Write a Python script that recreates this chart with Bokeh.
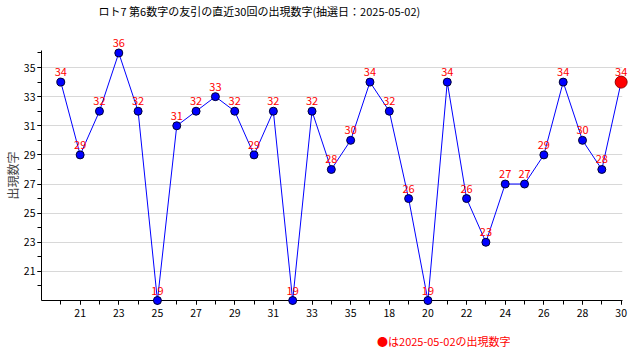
from bokeh.plotting import figure
from bokeh.models import ColumnDataSource, FixedTicker, Range1d, Title
from bokeh.core.properties import value
from bokeh.embed import file_html
from bokeh.resources import INLINE

# ---- data ----
draw_index = list(range(1, 31))
values = [34, 29, 32, 36, 32, 19, 31, 32, 33, 32, 29, 32, 19, 32, 28,
          30, 34, 32, 26, 19, 34, 26, 23, 27, 27, 29, 34, 30, 28, 34]
x_tick_pos = [2, 4, 6, 8, 10, 12, 14, 16, 18, 20, 22, 24, 26, 28, 30]
x_tick_labels = ["21", "23", "25", "27", "29", "31", "33", "35",
                 "18", "20", "22", "24", "26", "28", "30"]
y_ticks = [21, 23, 25, 27, 29, 31, 33, 35]
title_text = "ロト7 第6数字の友引の直近30回の出現数字(抽選日：2025-05-02)"
ylabel_text = "出現数字"
note_text = "●は2025-05-02の出現数字"

FONT = "Noto Sans CJK JP"

src = ColumnDataSource(dict(x=draw_index, y=values, lab=[str(v) for v in values]))
last = ColumnDataSource(dict(x=draw_index[-1:], y=values[-1:]))

p = figure(frame_width=581, frame_height=250, output_backend="svg",
           toolbar_location=None,
           x_range=Range1d(0.0, 30.07), y_range=Range1d(19, 36.17),
           min_border_left=32, min_border_right=11, min_border_top=20,
           min_border_bottom=48)
p.outline_line_color = None
p.background_fill_color = "white"
p.border_fill_color = "white"

# spacer between title and frame (nearest to frame), then the title
spacer = Title(text=" ", text_font_size="1px", standoff=29)
p.add_layout(spacer, "above")
t = Title(text=title_text, align="left", offset=57, text_font=FONT,
          text_font_size="11px", text_font_style="normal", text_color="black",
          standoff=0)
p.add_layout(t, "above")

note = Title(text=note_text, align="right", offset=112, text_font=FONT,
             text_font_size="11px", text_font_style="normal", text_color="red",
             standoff=22)
p.add_layout(note, "below")

# axes
p.xaxis.ticker = FixedTicker(ticks=x_tick_pos, minor_ticks=draw_index)
p.xaxis.major_label_overrides = {pos: lab for pos, lab in zip(x_tick_pos, x_tick_labels)}
p.yaxis.ticker = FixedTicker(ticks=y_ticks, minor_ticks=list(range(20, 37)))
p.yaxis.axis_label = ylabel_text
for ax in (p.xaxis[0], p.yaxis[0]):
    ax.axis_line_color = "black"
    ax.major_tick_line_color = "black"
    ax.minor_tick_line_color = "black"
    ax.major_tick_in = 0
    ax.minor_tick_in = 0
    ax.major_tick_out = 4
    ax.minor_tick_out = 4
    ax.major_label_text_font = FONT
    ax.major_label_text_font_size = "10.5px"
    ax.major_label_text_color = "black"
    ax.axis_label_text_font = FONT
    ax.axis_label_text_font_size = "12px"
    ax.axis_label_text_font_style = "normal"
    ax.axis_label_standoff = 0
p.xaxis.major_label_standoff = 4
p.yaxis.major_label_standoff = 2
p.xgrid.grid_line_color = None
p.ygrid.ticker = FixedTicker(ticks=y_ticks)
p.ygrid.grid_line_color = "#d8d8d8"
p.ygrid.grid_line_width = 1

# line and points
ln = p.line("x", "y", source=src, line_color="#0000ff", line_width=1)
pts = p.scatter("x", "y", source=src, size=8, fill_color="#0000ff",
                line_color="#000033", line_width=1)
lp = p.scatter("x", "y", source=last, size=12, fill_color="#ff0000",
               line_color="#990000", line_width=1)
txt = p.text("x", "y", text="lab", source=src, text_align="center",
             text_baseline="bottom", y_offset=-6, text_color="#ff0000",
             text_font=value(FONT), text_font_size="11px")
for r in (ln, pts, lp, txt):
    r.level = "overlay"

open("out.html", "w").write(file_html(p, INLINE))
